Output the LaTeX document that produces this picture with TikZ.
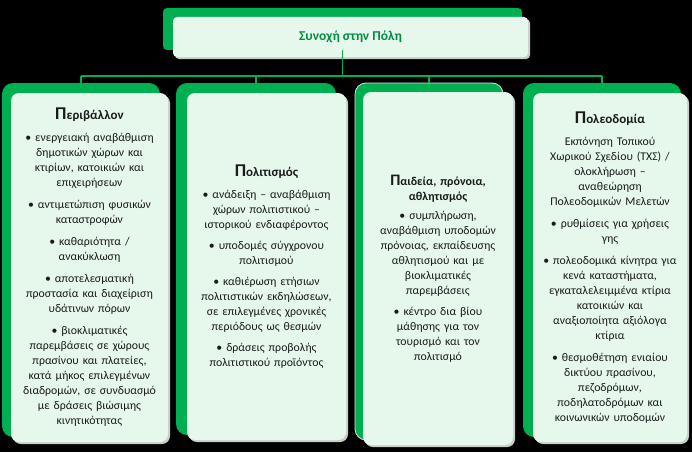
\documentclass[tikz,border=0pt]{standalone}
\usepackage{fontspec}
\setmainfont{Carlito}
\definecolor{ogreen}{HTML}{00B050}
\definecolor{mint}{HTML}{E6F7EC}
\definecolor{shade}{HTML}{C9CFCB}
\definecolor{txt}{HTML}{1A1A1A}
\tikzset{
  backbox/.style={fill=ogreen, draw=none, rounded corners=11pt, inner sep=0pt},
  shadebox/.style={fill=shade, draw=none, rounded corners=8pt, inner sep=0pt},
  frontbox/.style={fill=mint, draw=none, rounded corners=8pt, inner sep=0pt, align=center,
     text=txt, font=\fontsize{11.8}{15}\selectfont},
  conn/.style={draw=ogreen, line width=1.4pt},
}
\newcommand{\hdr}[2]{{\bfseries{\fontsize{18}{18}\selectfont #1}{\fontsize{13}{14}\selectfont #2}}}
\begin{document}
\begin{tikzpicture}[x=1pt,y=-1pt]
\useasboundingbox[fill=black] (0,0) rectangle (692,452);
% top box
\node[backbox, rounded corners=4pt, minimum width=359pt, minimum height=42pt] (TB) at (342.5,29) {};
\node[shadebox, rounded corners=4pt, minimum width=355pt, minimum height=40pt] (TS) at (352.5,39) {};
\node[frontbox, rounded corners=4pt, minimum width=355pt, minimum height=40pt, text=ogreen!80!black,
      font=\fontsize{13.5}{15}\selectfont\bfseries] (TF) at (350.5,37) {Συνοχή στην Πόλη};
% box 1
\node[backbox, minimum width=158pt, minimum height=354pt] (B1) at (81,260) {};
\node[shadebox, minimum width=157pt, minimum height=349pt] (S1) at (91.5,269.5) {};
\node[frontbox, minimum width=157pt, minimum height=349pt, text width=155pt] (F1) at (89.5,267.5) {%
\hdr{Π}{εριβάλλον}\\[7pt]
• ενεργειακή αναβάθμιση\\δημοτικών χώρων και\\κτιρίων, κατοικιών και\\επιχειρήσεων\\[7pt]
• αντιμετώπιση φυσικών\\καταστροφών\\[7pt]
• καθαριότητα /\\ανακύκλωση\\[7pt]
• αποτελεσματική\\προστασία και  διαχείριση\\υδάτινων πόρων\\[7pt]
• βιοκλιματικές\\παρεμβάσεις σε χώρους\\πρασίνου και πλατείες,\\κατά μήκος επιλεγμένων\\διαδρομών, σε συνδυασμό\\με δράσεις βιώσιμης\\κινητικότητας};
% box 2
\node[backbox, minimum width=160pt, minimum height=352pt] (B2) at (256,259) {};
\node[shadebox, minimum width=159pt, minimum height=347pt] (S2) at (268.5,268.5) {};
\node[frontbox, minimum width=159pt, minimum height=347pt, text width=157pt] (F2) at (266.5,266.5) {%
\hdr{Π}{ολιτισμός}\\[7pt]
• ανάδειξη – αναβάθμιση\\χώρων πολιτιστικού –\\ιστορικού ενδιαφέροντος\\[6pt]
• υποδομές σύγχρονου\\πολιτισμού\\[6pt]
• καθιέρωση ετήσιων\\πολιτιστικών εκδηλώσεων,\\σε επιλεγμένες χρονικές\\περιόδους ως θεσμών\\[6pt]
• δράσεις προβολής\\πολιτιστικού προϊόντος};
% box 3
\node[backbox, draw=white!75!gray, line width=0.8pt, minimum width=148pt, minimum height=357pt] (B3) at (429,261.5) {};
\node[shadebox, minimum width=150pt, minimum height=353pt] (S3) at (440,270.5) {};
\node[frontbox, minimum width=150pt, minimum height=353pt, text width=148pt] (F3) at (438,268.5) {%
{\bfseries{\fontsize{16}{15}\selectfont Π}{\fontsize{12}{15}\selectfont αιδεία, πρόνοια,}}\\
{\bfseries\fontsize{12}{15}\selectfont αθλητισμός}\\[4pt]
• συμπλήρωση,\\αναβάθμιση υποδομών\\πρόνοιας, εκπαίδευσης\\αθλητισμού και με\\βιοκλιματικές\\παρεμβάσεις\\[6pt]
• κέντρο δια βίου\\μάθησης για τον\\τουρισμό και τον\\πολιτισμό};
% box 4
\node[backbox, minimum width=158pt, minimum height=354pt] (B4) at (602,260) {};
\node[shadebox, minimum width=154pt, minimum height=349pt] (S4) at (612,269.5) {};
\node[frontbox, minimum width=154pt, minimum height=349pt, text width=152pt] (F4) at (610,267.5) {%
\hdr{Π}{ολεοδομία}\\[7pt]
Εκπόνηση Τοπικού\\Χωρικού Σχεδίου (ΤΧΣ) /\\ολοκλήρωση –\\αναθεώρηση\\Πολεοδομικών Μελετών\\[7pt]
• ρυθμίσεις για χρήσεις\\γης\\[7pt]
• πολεοδομικά κίνητρα για\\κενά καταστήματα,\\εγκαταλελειμμένα κτίρια\\κατοικιών και\\αναξιοποίητα αξιόλογα\\κτίρια\\[7pt]
• θεσμοθέτηση ενιαίου\\δικτύου πρασίνου,\\πεζοδρόμων,\\ποδηλατοδρόμων και\\κοινωνικών υποδομών};
% connectors
\coordinate (bus) at (0,76);
\draw[conn] (TB.south) -- (TB.south |- bus);
\draw[conn] (B1.north |- bus) -- (B4.north |- bus);
\draw[conn] (B1.north |- bus) -- (B1.north);
\draw[conn] (B2.north |- bus) -- (B2.north);
\draw[conn] (B3.north |- bus) -- (B3.north);
\draw[conn] (B4.north |- bus) -- (B4.north);
\end{tikzpicture}
\end{document}
